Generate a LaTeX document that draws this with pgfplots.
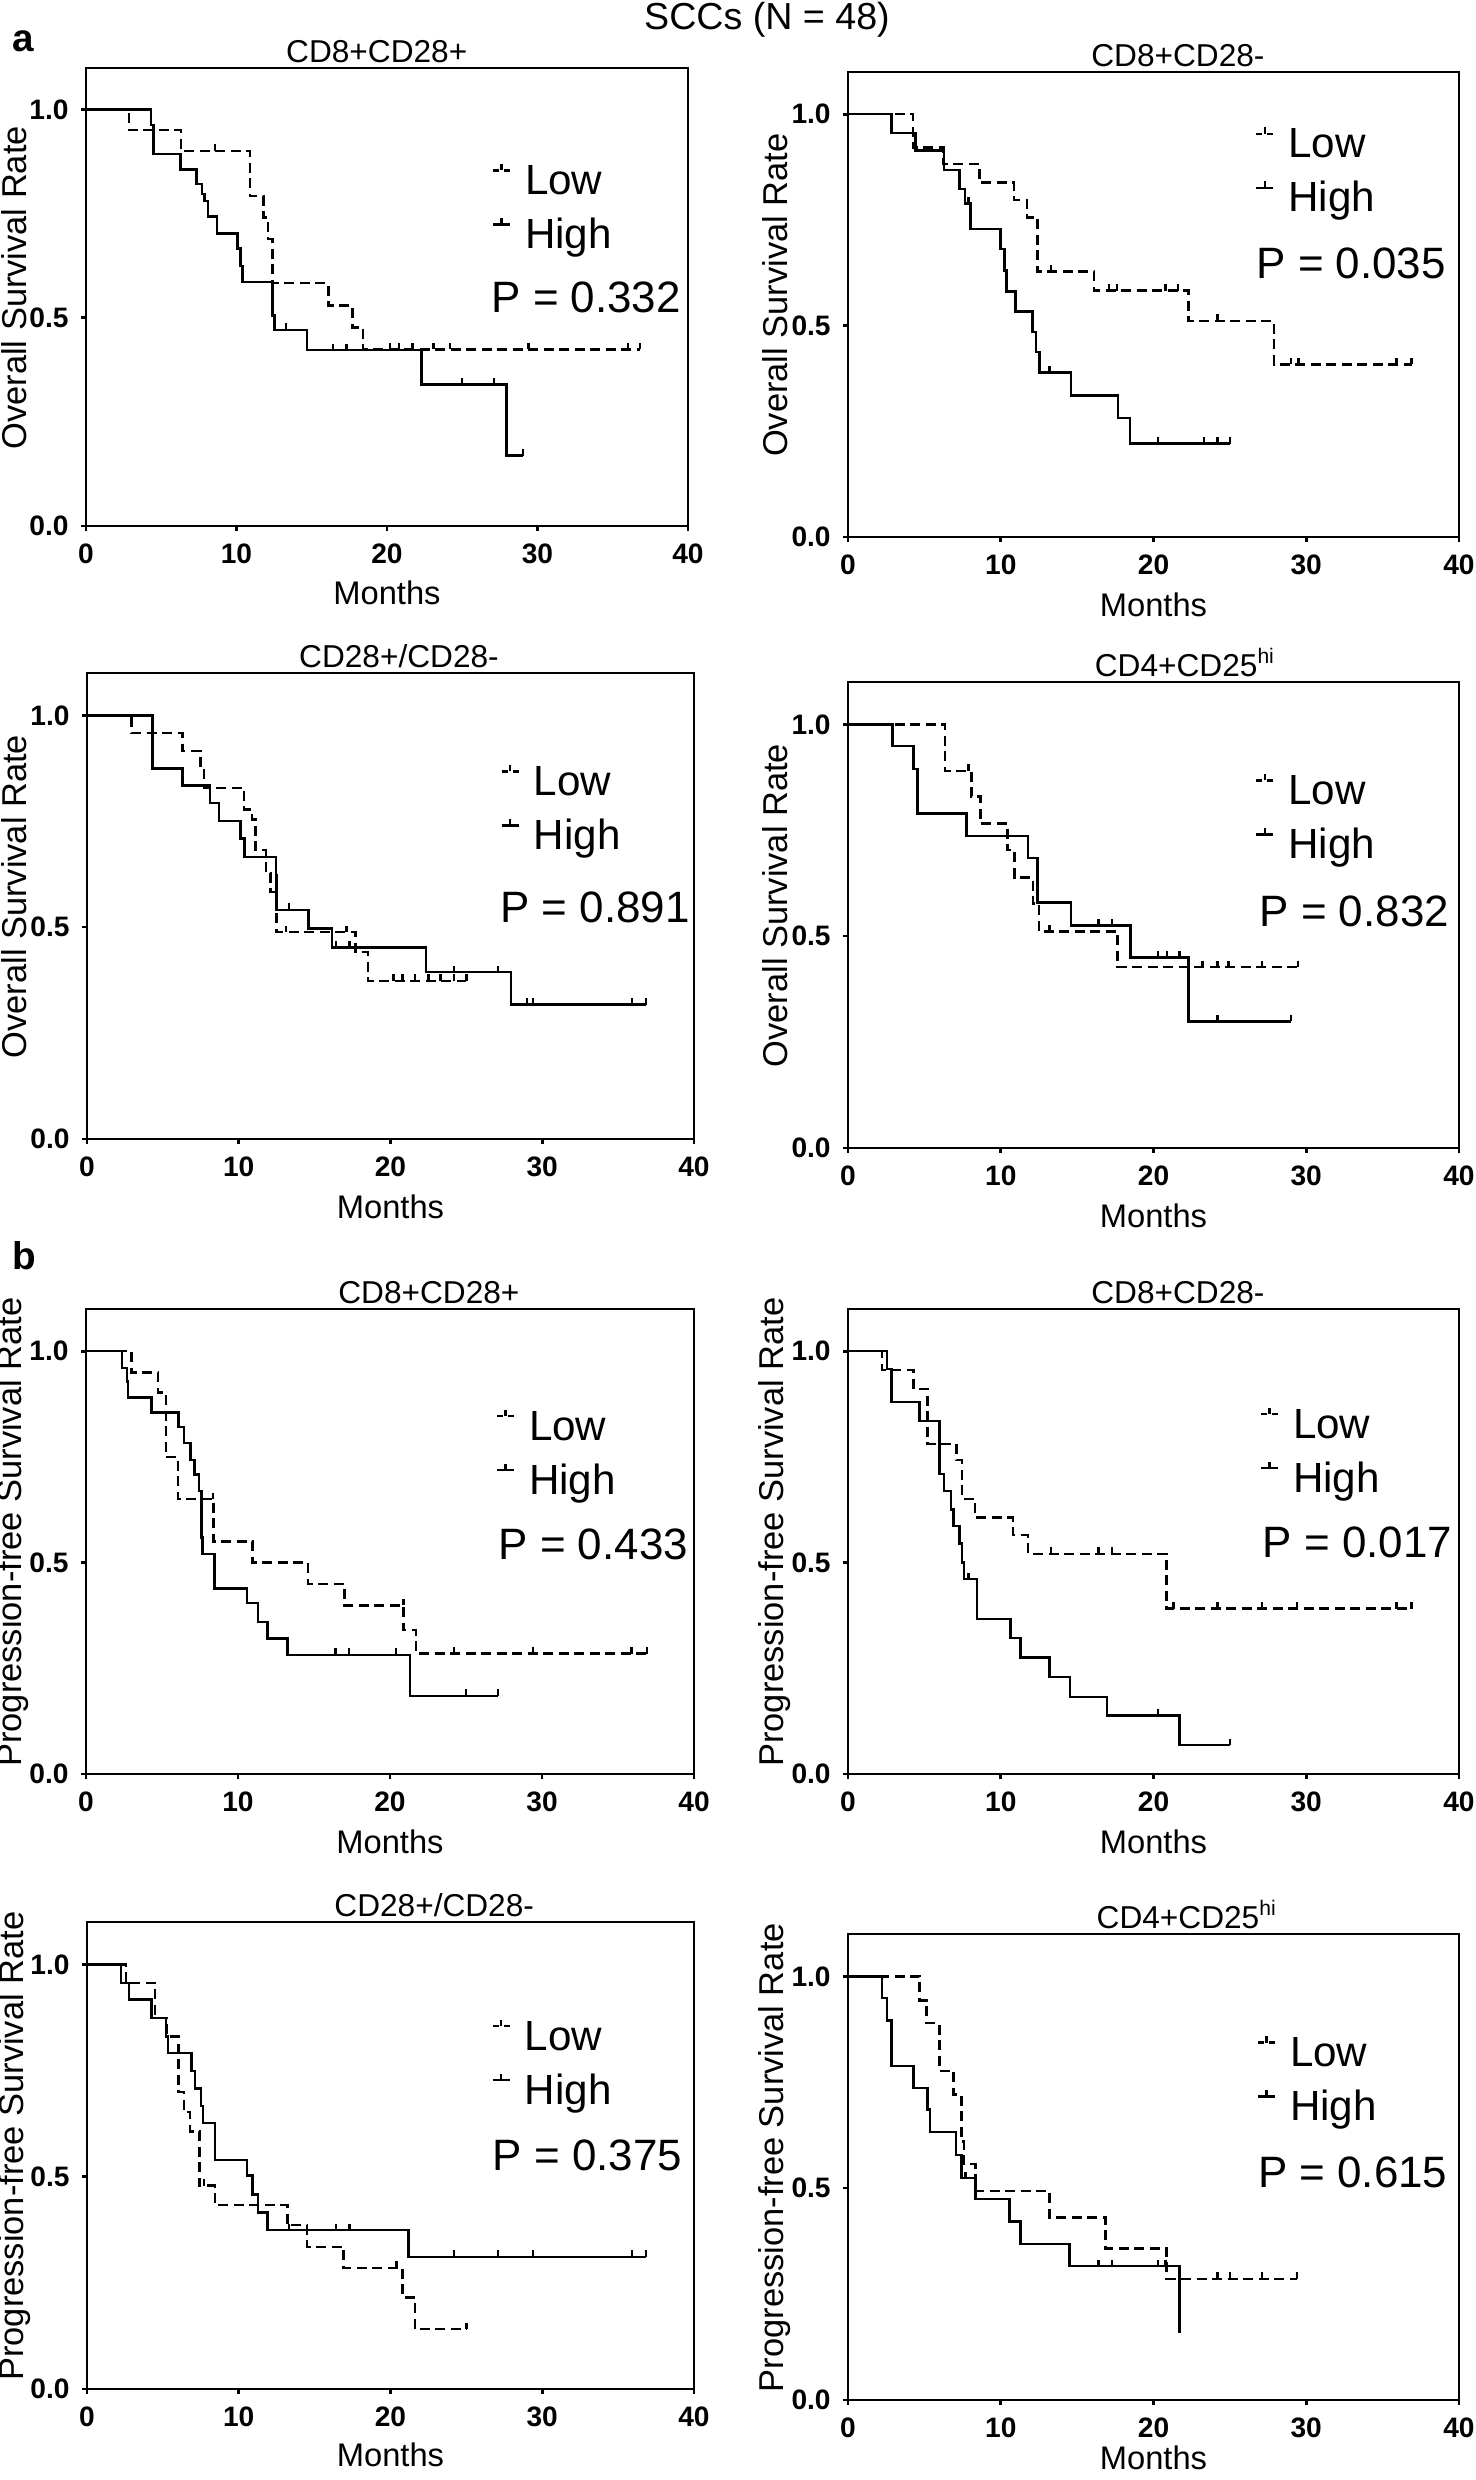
\documentclass[border=0pt]{standalone}
\usepackage{fontspec}
\setmainfont{Liberation Sans}
\usepackage{pgfplots}
\pgfplotsset{compat=1.18}

\pgfdeclareplotmark{cens}{\pgfpathmoveto{\pgfqpoint{0pt}{0pt}}\pgfpathlineto{\pgfqpoint{0pt}{1.85pt}}\pgfusepathqstroke}

\pgfplotsset{
  km/.style={
    scale only axis, anchor=south west,
    xmin=0, xmax=40, ymin=0, ymax=1.1,
    xtick={0,10,20,30,40}, ytick={0,0.5,1},
    tick pos=left, tick align=outside,
    major tick length=0.05cm,
    axis line style={line width=0.75pt},
    every tick/.style={line width=0.75pt, black},
    /pgf/number format/assume math mode=true,
    yticklabel style={/pgf/number format/fixed, /pgf/number format/fixed zerofill, /pgf/number format/precision=1, font=\fontsize{8}{9}\selectfont\bfseries},
    xticklabel style={font=\fontsize{8}{9}\selectfont\bfseries},
    xlabel={Months},
    xlabel style={font=\fontsize{9.3}{11}\selectfont, at={(axis description cs:0.5,-0.146)}, anchor=center},
    ylabel style={font=\fontsize{9.8}{11}\selectfont, at={(axis description cs:-0.12,0.52)}, anchor=center},
    every axis title shift=0pt,
    title style={font=\fontsize{9}{10}\selectfont, anchor=base, yshift=0.05cm},
    legend cell align=left,
    legend style={draw=none, fill=none, anchor=north west, font=\fontsize{12}{14}\selectfont,
      inner sep=0pt, column sep=0.14cm, row sep=0.14cm,
      nodes={inner sep=0pt, text height=0.32cm, text depth=0.08cm}},
  },
  lowline/.style={const plot, black, line width=0.7pt, dash pattern=on 0.1cm off 0.055cm, mark=none,
    legend image code/.code={\draw[black,line width=0.7pt] (0cm,0.12cm) -- (0.06cm,0.12cm) (0.11cm,0.12cm) -- (0.17cm,0.12cm) (0.085cm,0.12cm) -- (0.085cm,0.185cm);}},
  highline/.style={const plot, black, line width=0.7pt, solid, mark=none,
    legend image code/.code={\draw[black,line width=0.7pt] (0cm,0.12cm) -- (0.17cm,0.12cm) (0.085cm,0.12cm) -- (0.085cm,0.185cm);}},
  censor/.style={only marks, mark=cens, mark options={solid, line width=0.7pt, black}, forget plot},
}
\tikzset{pnode/.style={anchor=west, font=\fontsize{12.5}{14}\selectfont, inner sep=0pt}}

\begin{document}
\begin{tikzpicture}
\useasboundingbox (0,0) rectangle (14.75,24.8);
\node[font=\fontsize{10.7}{12}\selectfont] at (7.67,24.6) {SCCs (N = 48)};
\node[anchor=base, font=\fontsize{11}{12}\selectfont\bfseries] at (0.23,24.28) {a};
\node[anchor=base, font=\fontsize{11}{12}\selectfont\bfseries] at (0.245,12.1) {b};

% ---------------- a1
\begin{axis}[km, at={(0.86cm,19.54cm)}, width=6.02cm, height=4.58cm,
  title={CD8+CD28+}, title style={at={(0.483,1)}}, ylabel={Overall Survival Rate},
  legend style={at={(axis cs:26.9,0.875)}}]
\addplot[lowline] coordinates {(0,1) (2.85,0.951) (6.3,0.901) (10.9,0.792) (11.8,0.741) (12.1,0.689) (12.38,0.583) (16.1,0.529) (17.7,0.477) (18.4,0.424) (36.8,0.424)};
\addlegendentry{Low}
\addplot[highline] coordinates {(0,1) (4.33,0.963) (4.5,0.894) (6.27,0.856) (7.33,0.821) (7.7,0.797) (7.87,0.781) (8.09,0.743) (8.71,0.702) (10.06,0.666) (10.28,0.624) (10.4,0.586) (12.38,0.506) (12.54,0.471) (14.67,0.422) (22.29,0.34) (27.93,0.169) (29.03,0.169)};
\addlegendentry{High}
\addplot[censor] coordinates {(8.56,0.901) (20.2,0.424) (20.8,0.424) (21.7,0.424) (23.1,0.424) (24.2,0.424) (29.4,0.424) (36.0,0.424) (36.8,0.424)};
\addplot[censor] coordinates {(13.3,0.471) (16.4,0.422) (17.3,0.422) (25.0,0.34) (27.1,0.34) (29.03,0.169)};
\node[pnode] at (axis cs:26.9,0.55) {P = 0.332};
\end{axis}

% ---------------- a2
\begin{axis}[km, at={(8.48cm,19.43cm)}, width=6.11cm, height=4.65cm,
  title={CD8+CD28-}, title style={at={(0.540,1)}}, ylabel={Overall Survival Rate},
  legend style={at={(axis cs:26.6,0.974)}}]
\addplot[lowline] coordinates {(0,1) (4.25,0.921) (6.25,0.882) (8.6,0.838) (10.86,0.797) (11.72,0.756) (12.4,0.628) (16.1,0.583) (22.3,0.511) (27.9,0.408) (36.9,0.408)};
\addlegendentry{Low}
\addplot[highline] coordinates {(0,1) (2.86,0.956) (4.43,0.914) (6.28,0.868) (7.29,0.823) (7.66,0.789) (8.03,0.728) (9.97,0.681) (10.25,0.630) (10.37,0.581) (10.95,0.533) (12.09,0.485) (12.31,0.438) (12.55,0.389) (14.6,0.335) (17.66,0.281) (18.46,0.221) (25.0,0.221)};
\addlegendentry{High}
\addplot[censor] coordinates {(13.3,0.628) (17.1,0.583) (17.6,0.583) (20.8,0.583) (21.6,0.583) (24.2,0.511) (29.0,0.408) (29.5,0.408) (35.9,0.408) (36.9,0.408)};
\addplot[censor] coordinates {(7.88,0.789) (13.2,0.389) (20.3,0.221) (23.3,0.221) (24.2,0.221) (25.0,0.221)};
\node[pnode] at (axis cs:26.7,0.648) {P = 0.035};
\end{axis}

% ---------------- a3
\begin{axis}[km, at={(0.87cm,13.41cm)}, width=6.07cm, height=4.66cm,
  title={CD28+/CD28-}, title style={at={(0.514,1)}}, ylabel={Overall Survival Rate},
  legend style={at={(axis cs:27.2,0.888)}}]
\addplot[lowline] coordinates {(0,1) (2.93,0.958) (6.3,0.916) (7.47,0.876) (7.72,0.829) (10.35,0.778) (10.87,0.754) (11.1,0.682) (11.8,0.628) (12.1,0.583) (12.5,0.488) (17.7,0.441) (18.5,0.373) (25.0,0.373)};
\addlegendentry{Low}
\addplot[highline] coordinates {(0,1) (4.32,0.874) (6.3,0.834) (8.09,0.793) (8.71,0.750) (10.13,0.709) (10.38,0.665) (12.45,0.623) (12.5,0.541) (14.6,0.497) (16.15,0.452) (22.33,0.394) (27.95,0.317) (36.85,0.317)};
\addlegendentry{High}
\addplot[censor] coordinates {(13.1,0.488) (17.1,0.488) (20.2,0.373) (20.8,0.373) (21.6,0.373) (22.5,0.373) (23.3,0.373) (24.2,0.373) (25.0,0.373)};
\addplot[censor] coordinates {(13.3,0.541) (16.4,0.452) (17.3,0.452) (24.2,0.394) (27.1,0.394) (29.0,0.317) (29.4,0.317) (35.9,0.317) (36.85,0.317)};
\node[pnode] at (axis cs:27.2,0.546) {P = 0.891};
\end{axis}

% ---------------- a4
\begin{axis}[km, at={(8.48cm,13.32cm)}, width=6.11cm, height=4.66cm,
  title={CD4+CD25\textsuperscript{hi}}, title style={at={(0.552,1)}}, ylabel={Overall Survival Rate},
  legend style={at={(axis cs:26.6,0.888)}}]
\addplot[lowline] coordinates {(0,1) (6.35,0.890) (8.07,0.830) (8.68,0.766) (10.43,0.703) (10.9,0.638) (12.1,0.577) (12.5,0.511) (17.64,0.427) (29.45,0.427)};
\addlegendentry{Low}
\addplot[highline] coordinates {(0,1) (2.91,0.949) (4.29,0.895) (4.54,0.789) (7.76,0.736) (11.8,0.684) (12.4,0.579) (14.6,0.525) (18.5,0.450) (22.3,0.299) (29.0,0.299)};
\addlegendentry{High}
\addplot[censor] coordinates {(7.9,0.890) (13.2,0.511) (23.2,0.427) (24.2,0.427) (24.9,0.427) (27.1,0.427) (29.45,0.427)};
\addplot[censor] coordinates {(16.4,0.525) (17.3,0.525) (20.3,0.450) (20.9,0.450) (21.7,0.450) (24.2,0.299) (29.0,0.299)};
\node[pnode] at (axis cs:26.9,0.558) {P = 0.832};
\end{axis}

% ---------------- b1
\begin{axis}[km, at={(0.86cm,7.06cm)}, width=6.08cm, height=4.65cm,
  title={CD8+CD28+}, title style={at={(0.564,1)}}, ylabel={Progression-free Survival Rate},
  legend style={at={(axis cs:26.9,0.867)}}]
\addplot[lowline] coordinates {(0,1) (3.0,0.950) (4.75,0.902) (5.25,0.75) (6.05,0.650) (8.4,0.550) (10.96,0.500) (14.6,0.449) (17.0,0.399) (20.9,0.341) (21.7,0.285) (36.9,0.285)};
\addlegendentry{Low}
\addplot[highline] coordinates {(0,1) (2.38,0.961) (2.7,0.928) (2.78,0.891) (4.32,0.855) (6.08,0.821) (6.45,0.783) (6.88,0.743) (7.13,0.708) (7.44,0.670) (7.6,0.559) (7.65,0.521) (8.46,0.439) (10.6,0.404) (11.3,0.360) (11.95,0.320) (13.25,0.282) (21.3,0.185) (27.1,0.185)};
\addlegendentry{High}
\addplot[censor] coordinates {(8.35,0.650) (20.9,0.399) (24.2,0.285) (29.4,0.285) (35.9,0.285) (36.9,0.285)};
\addplot[censor] coordinates {(16.4,0.282) (17.3,0.282) (20.4,0.282) (25.0,0.185) (27.1,0.185)};
\node[pnode] at (axis cs:27.1,0.542) {P = 0.433};
\end{axis}

% ---------------- b2
\begin{axis}[km, at={(8.48cm,7.06cm)}, width=6.11cm, height=4.65cm,
  title={CD8+CD28-}, title style={at={(0.540,1)}}, ylabel={Progression-free Survival Rate},
  legend style={at={(axis cs:26.9,0.872)}}]
\addplot[lowline] coordinates {(0,1) (2.24,0.956) (4.3,0.911) (5.2,0.780) (7.1,0.743) (7.45,0.650) (8.3,0.607) (10.8,0.565) (11.8,0.521) (20.86,0.391) (36.9,0.391)};
\addlegendentry{Low}
\addplot[highline] coordinates {(0,1) (2.55,0.958) (2.85,0.880) (4.69,0.835) (5.98,0.710) (6.29,0.670) (6.75,0.626) (6.9,0.587) (7.3,0.545) (7.45,0.500) (7.58,0.461) (8.44,0.366) (10.64,0.322) (11.3,0.276) (13.2,0.229) (14.55,0.182) (16.94,0.138) (21.7,0.068) (25.0,0.068)};
\addlegendentry{High}
\addplot[censor] coordinates {(13.3,0.521) (16.4,0.521) (17.3,0.521) (21.3,0.391) (24.2,0.391) (27.1,0.391) (29.4,0.391) (35.9,0.391) (36.9,0.391)};
\addplot[censor] coordinates {(7.9,0.461) (20.3,0.138) (25.0,0.068)};
\node[pnode] at (axis cs:27.1,0.547) {P = 0.017};
\end{axis}

% ---------------- b3
\begin{axis}[km, at={(0.87cm,0.91cm)}, width=6.07cm, height=4.67cm,
  title={CD28+/CD28-}, title style={at={(0.572,1)}}, ylabel={Progression-free Survival Rate},
  xlabel style={at={(axis description cs:0.5,-0.14)}},
  legend style={at={(axis cs:26.6,0.875)}}]
\addplot[lowline] coordinates {(0,1) (2.56,0.956) (4.48,0.874) (5.25,0.830) (6.02,0.700) (6.4,0.652) (6.8,0.607) (7.4,0.479) (8.43,0.433) (13.2,0.386) (14.5,0.335) (16.9,0.285) (20.8,0.215) (21.6,0.141) (25.0,0.141)};
\addlegendentry{Low}
\addplot[highline] coordinates {(0,1) (2.25,0.956) (2.78,0.917) (4.26,0.874) (5.19,0.830) (5.34,0.791) (6.89,0.749) (7.1,0.708) (7.5,0.666) (7.66,0.626) (8.43,0.540) (10.56,0.503) (10.9,0.458) (11.27,0.416) (11.9,0.374) (21.2,0.311) (36.85,0.311)};
\addlegendentry{High}
\addplot[censor] coordinates {(7.7,0.479) (20.4,0.285) (25.0,0.141)};
\addplot[censor] coordinates {(13.3,0.374) (16.4,0.374) (17.3,0.374) (24.2,0.311) (27.1,0.311) (29.4,0.311) (35.9,0.311) (36.85,0.311)};
\node[pnode] at (axis cs:26.7,0.55) {P = 0.375};
\end{axis}

% ---------------- b4
\begin{axis}[km, at={(8.48cm,0.80cm)}, width=6.11cm, height=4.66cm,
  title={CD4+CD25\textsuperscript{hi}}, title style={at={(0.555,1)}}, ylabel={Progression-free Survival Rate},
  xlabel style={at={(axis description cs:0.5,-0.125)}},
  legend style={at={(axis cs:26.7,0.864)}}]
\addplot[lowline] coordinates {(0,1) (4.69,0.943) (5.15,0.890) (5.98,0.777) (6.9,0.721) (7.42,0.610) (7.58,0.557) (8.34,0.493) (13.19,0.431) (16.87,0.358) (20.86,0.286) (29.4,0.286)};
\addlegendentry{Low}
\addplot[highline] coordinates {(0,1) (2.24,0.949) (2.55,0.896) (2.85,0.789) (4.29,0.737) (5.21,0.686) (5.37,0.632) (7.06,0.578) (7.42,0.524) (8.34,0.475) (10.58,0.421) (11.29,0.368) (14.5,0.316) (21.7,0.159)};
\addlegendentry{High}
\addplot[censor] coordinates {(24.2,0.286) (25.0,0.286) (27.1,0.286) (29.4,0.286)};
\addplot[censor] coordinates {(7.7,0.524) (16.4,0.316) (17.3,0.316) (20.3,0.316) (20.8,0.316)};
\node[pnode] at (axis cs:26.8,0.538) {P = 0.615};
\end{axis}
\end{tikzpicture}
\end{document}
